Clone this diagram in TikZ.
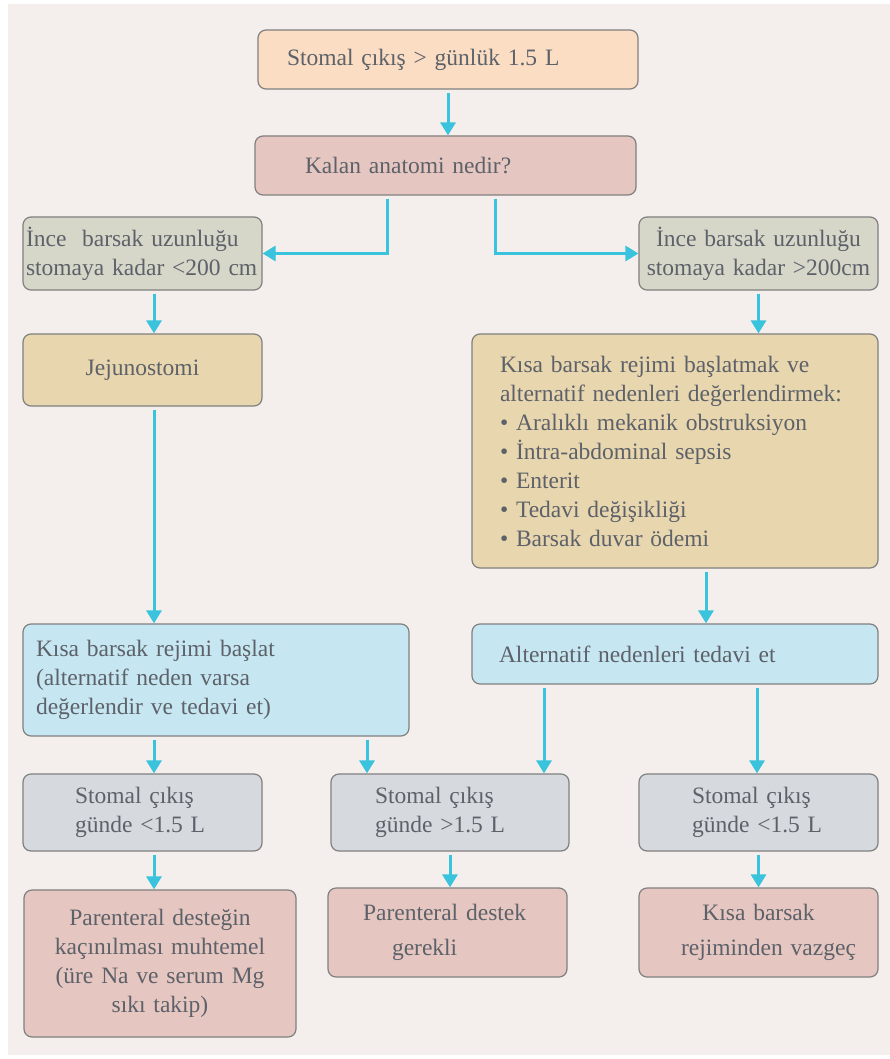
\documentclass[tikz,border=0pt]{standalone}
\usepackage{fontspec}
\setmainfont{Liberation Serif}
\usetikzlibrary{arrows.meta}

\definecolor{pagebg}{HTML}{F4EFEC}
\definecolor{peach}{HTML}{FADDC3}
\definecolor{rose}{HTML}{E5C6C0}
\definecolor{sage}{HTML}{D6D7C9}
\definecolor{tan}{HTML}{E8D6AE}
\definecolor{sky}{HTML}{C6E7F1}
\definecolor{slate}{HTML}{D6D9DE}
\definecolor{flow}{HTML}{3AC3DC}
\definecolor{ink}{HTML}{5D6169}
\definecolor{edge}{HTML}{808080}

\begin{document}
\begin{tikzpicture}[x=1pt, y=-1pt,
	box/.style={draw=edge, line width=1.2pt, rounded corners=8pt, text=ink, inner ysep=0pt,
		font=\fontsize{23.5}{29}\selectfont},
	arr/.style={draw=flow, line width=3pt, shorten <=3pt, -{Triangle[width=15pt,length=13pt]}}]
	\useasboundingbox (0,0) rectangle (890,1059);
	\fill[pagebg] (8,4) rectangle (890,1055);
	% top of the chart
	\node (A) at (448, 59.5)	[box, fill=peach, minimum width=380, minimum height=59, text width=322, align=left]	{Stomal çıkış > günlük 1.5 L};
	\node (B) at (445.5, 165.5)	[box, fill=rose, minimum width=381, minimum height=59, text width=281, align=left]	{Kalan anatomi nedir?};
	\node (C) at (142.5, 253.5)	[box, fill=sage, minimum width=239, minimum height=73, inner xsep=0pt, text width=233, align=left]	{İnce\ \ barsak uzunluğu\\stomaya kadar <200 cm};
	\node (D) at (758.5, 253.5)	[box, fill=sage, minimum width=239, minimum height=73, text width=225, align=center]	{İnce barsak uzunluğu\\stomaya kadar >200cm};
	% left branch
	\node (E) at (142.5, 370)	[box, fill=tan, minimum width=239, minimum height=72, text width=225, align=center]	{Jejunostomi};
	\node (G) at (216, 680)	[box, fill=sky, minimum width=386, minimum height=112, text width=360, align=left]	{Kısa barsak rejimi başlat\\(alternatif neden varsa\\değerlendir ve tedavi et)};
	% right branch
	\node (F) at (675, 451)	[box, fill=tan, minimum width=406, minimum height=234, text width=350, align=left]	{Kısa barsak rejimi başlatmak ve\\alternatif nedenleri değerlendirmek:\\\textbullet\ Aralıklı mekanik obstruksiyon\\\textbullet\ İntra-abdominal sepsis\\\textbullet\ Enterit\\\textbullet\ Tedavi değişikliği\\\textbullet\ Barsak duvar ödemi};
	\node (H) at (675, 654)	[box, fill=sky, minimum width=406, minimum height=60, text width=352, align=left]	{Alternatif nedenleri tedavi et};
	% outputs
	\node (I) at (142.5, 812.5)	[box, fill=slate, minimum width=239, minimum height=77, text width=135, align=left]	{Stomal çıkış\\günde <1.5 L};
	\node (J) at (450, 812.5)	[box, fill=slate, minimum width=238, minimum height=77, text width=150, align=left]	{Stomal çıkış\\günde >1.5 L};
	\node (K) at (758.5, 812.5)	[box, fill=slate, minimum width=239, minimum height=77, text width=133, align=left]	{Stomal çıkış\\günde <1.5 L};
	\node (L) at (160, 963.5)	[box, fill=rose, minimum width=272, minimum height=147, text width=250, align=center]	{Parenteral desteğin\\kaçınılması muhtemel\\(üre Na ve serum Mg\\sıkı takip)};
	\node (M) at (447.5, 932.5)	[box, fill=rose, minimum width=239, minimum height=89, text width=169, align=left]	{Parenteral destek\\[6pt]\hspace{29pt}gerekli};
	\node (N) at (758.5, 932.5)	[box, fill=rose, minimum width=239, minimum height=89, text width=225, align=center]	{Kısa barsak\\[6pt]\hspace{20pt}rejiminden vazgeç};
	% connectors
	\draw[arr] (A.south) -- (A.south |- B.north);
	\draw[arr] ([xshift=-58.5pt]B.south) |- (C.east);
	\draw[arr] ([xshift=49.5pt]B.south) |- (D.west);
	\draw[arr] ([xshift=11.5pt]C.south) -- ([xshift=11.5pt]C.south |- E.north);
	\draw[arr] (D.south) -- (D.south |- F.north);
	\draw[arr] ([xshift=11.5pt]E.south) -- ([xshift=11.5pt]E.south |- G.north);
	\draw[arr] ([xshift=31pt]F.south) -- ([xshift=31pt]F.south |- H.north);
	\draw[arr] ([xshift=-62pt]G.south) -- ([xshift=-62pt]G.south |- I.north);
	\draw[arr] ([xshift=151pt]G.south) -- ([xshift=151pt]G.south |- J.north);
	\draw[arr] ([xshift=-131pt]H.south) -- ([xshift=-131pt]H.south |- J.north);
	\draw[arr] ([xshift=82pt]H.south) -- ([xshift=82pt]H.south |- K.north);
	\draw[arr] ([xshift=11.5pt]I.south) -- ([xshift=11.5pt]I.south |- L.north);
	\draw[arr] (J.south) -- (J.south |- M.north);
	\draw[arr] (K.south) -- (K.south |- N.north);
\end{tikzpicture}
\end{document}
